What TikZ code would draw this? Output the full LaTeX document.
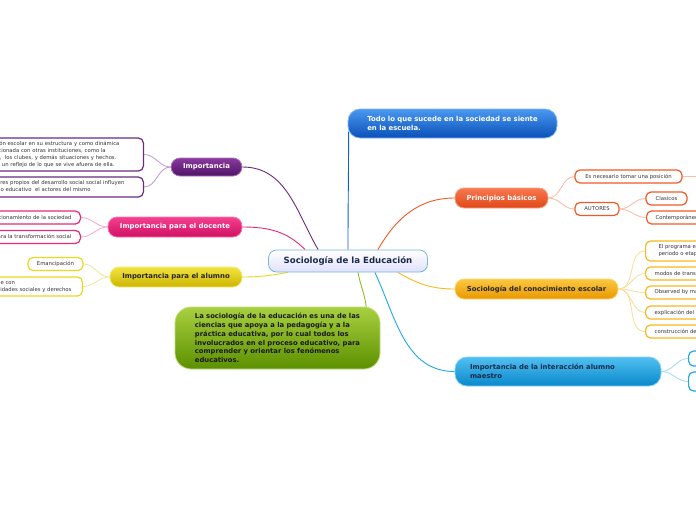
\documentclass[tikz,border=0pt]{standalone}
\usepackage{fontspec}
\setmainfont{DejaVu Sans}
\usetikzlibrary{calc}
\pgfdeclarelayer{back}
\pgfdeclarelayer{bg}
\pgfsetlayers{back,bg,main}
\definecolor{cpur}{HTML}{6B2A80}\definecolor{cpurT}{HTML}{8A3A9E}\definecolor{cpurB}{HTML}{4E1466}\definecolor{cpurL}{HTML}{C8A0D0}
\definecolor{cpin}{HTML}{E8287A}\definecolor{cpinT}{HTML}{F5408F}\definecolor{cpinB}{HTML}{D01063}\definecolor{cpinL}{HTML}{F8B0D0}
\definecolor{cyel}{HTML}{E8D820}\definecolor{cyelT}{HTML}{F2E540}\definecolor{cyelB}{HTML}{CDB400}\definecolor{cyelL}{HTML}{F0E8A0}
\definecolor{cora}{HTML}{F05A28}\definecolor{coraT}{HTML}{F87850}\definecolor{coraB}{HTML}{E04818}\definecolor{coraL}{HTML}{F8C0A8}
\definecolor{cgol}{HTML}{F8B820}\definecolor{cgolT}{HTML}{FCC840}\definecolor{cgolB}{HTML}{E89800}\definecolor{cgolL}{HTML}{F8E0A0}
\definecolor{clbl}{HTML}{20A8E8}\definecolor{clblT}{HTML}{50C0F0}\definecolor{clblB}{HTML}{0A88CC}\definecolor{clblL}{HTML}{A8DCF4}
\definecolor{cblu}{HTML}{1060D0}\definecolor{cbluT}{HTML}{4A98F0}\definecolor{cbluB}{HTML}{0A50B8}
\definecolor{cgre}{HTML}{88C020}\definecolor{cgreT}{HTML}{A8D040}\definecolor{cgreB}{HTML}{5C9000}
\definecolor{ctxt}{HTML}{1A2A4A}
\tikzset{
  mainbox/.style={rounded corners=9pt, inner sep=0pt, font=\bfseries\fontsize{6.9}{9}\selectfont, line width=0.8pt},
  childbox/.style={draw, line width=1.2pt, fill=white, rounded corners=5pt, inner ysep=0pt, inner xsep=9pt,
     font=\fontsize{5.3}{7}\selectfont, text=black!80},
  mconn/.style={line width=0.9pt},
  cconn/.style={line width=0.9pt},
}
\begin{document}
\begin{tikzpicture}[x=1pt,y=-1pt]
\useasboundingbox (0,0) rectangle (696,520);
\begin{pgfonlayer}{back}
\fill[white] (0,0) rectangle (696,520);
\end{pgfonlayer}
\clip (0,0) rectangle (696,520);

% central
\node[mainbox, rounded corners=8pt, draw=clbl!80!black!60, top color=white, bottom color=black!8!blue!12!white, minimum width=159pt, minimum height=22pt, text=ctxt, font=\bfseries\fontsize{8.6}{10}\selectfont] (c) at (348,261) {Sociología de la Educación};

% top blue
\node[mainbox, draw=cbluT!70!white, top color=cbluT, bottom color=cbluB, minimum width=209pt, minimum height=29pt, text=white, align=left, rounded corners=12pt] (todo) at (452.5,123.5) {Todo lo que sucede en la sociedad se siente\\en la escuela.};

% left branches
\node[mainbox, draw=cpurT!70!white, top color=cpurT, bottom color=cpurB, minimum width=71pt, minimum height=18pt, text=white] (imp) at (206.5,167) {Importancia};
\node[mainbox, draw=cpinT!70!white, top color=cpinT, bottom color=cpinB, minimum width=134pt, minimum height=20pt, text=white] (doc) at (175,227) {Importancia para el docente};
\node[mainbox, draw=cyelT!70!white, top color=cyelT, bottom color=cyelB, minimum width=132pt, minimum height=20pt, text=black!85] (alu) at (176,277) {Importancia para el alumno};

% right branches
\node[mainbox, draw=coraT!70!white, top color=coraT, bottom color=coraB, minimum width=93pt, minimum height=20pt, text=white] (prin) at (501.5,198) {Principios básicos};
\node[mainbox, draw=cgolT!70!white, top color=cgolT, bottom color=cgolB, minimum width=163pt, minimum height=20pt, text=black!85] (soc) at (536.5,289) {Sociología del conocimiento escolar};
\node[mainbox, draw=clblT!70!white, top color=clblT, bottom color=clblB, minimum width=206pt, minimum height=29pt, text=ctxt, align=left, text width=176pt, inner xsep=15pt, rounded corners=12pt] (inter) at (558,371.5) {Importancia de la interacción alumno\\maestro};

% green
\node[mainbox, draw=cgreT!70!white, top color=cgreT, bottom color=cgreB, minimum width=205pt, minimum height=62pt, text=black!90, align=left, rounded corners=16pt, font=\bfseries\fontsize{6.8}{8.7}\selectfont] (gre) at (277.5,338) {La sociología de la educación es una de las\\ciencias que apoya a la pedagogía y a la\\práctica educativa, por lo cual todos los\\involucrados en el proceso educativo, para\\comprender y orientar los fenómenos\\educativos.};

% children: Importancia
\node[childbox, draw=cpur, anchor=east, minimum height=33pt, text width=168pt, inner xsep=5pt, align=left] (imp1) at (144,154.5) {La institución escolar en su estructura y como dinámica\\y está relacionada con otras instituciones, como la\\y la familia,\ \ los clubes, y demás situaciones y hechos.\\Es también un reflejo de lo que se vive afuera de ella.};
\node[childbox, draw=cpur, anchor=east, minimum height=20pt, text width=162pt, inner xsep=5pt, align=left] (imp2) at (144,187) {Los factores propios del desarrollo social social influyen\\el proceso educativo\ \ el actores del mismo};

% children: docente
\node[childbox, draw=cpin, anchor=east, minimum height=13pt] (doc1) at (81,217.5) {el funcionamiento de la sociedad};
\node[childbox, draw=cpin, anchor=east, minimum height=13pt] (doc2) at (81,237) {Contribuir para la transformación social};

% children: alumno
\node[childbox, draw=cyel, minimum width=55pt, minimum height=13pt, inner xsep=4pt] (alu1) at (55.5,264) {Emancipación};
\node[childbox, draw=cyel, anchor=east, minimum height=19pt, align=left, inner xsep=11pt] (alu2) at (83,286.5) {Ser partícipe con\\responsabilidades sociales y derechos};

% children: principios
\node[childbox, draw=cora, minimum width=107pt, minimum height=13pt, inner xsep=3pt] (pos) at (628.5,176.5) {Es necesario tomar una posición};
\coordinate (posend) at (720,176.5);
\node[childbox, draw=cora, minimum width=44pt, minimum height=13pt, inner xsep=3pt] (aut) at (597,209) {AUTORES};
\node[childbox, draw=cora, minimum width=41pt, minimum height=13pt, inner xsep=3pt] (clas) at (666.5,198.5) {Clasicos};
\node[childbox, draw=cora, anchor=west, minimum height=13pt] (cont) at (646,217.5) {Contemporáneos};

% children: sociologia del conocimiento
\node[childbox, draw=cgol, anchor=west, minimum height=20pt, align=left, inner xsep=13pt] (s1) at (645,251) {El programa escolar de un\\periodo o etapa histórica};
\node[childbox, draw=cgol, anchor=west, minimum height=13pt] (s2) at (645,273.5) {modos de transmisión del conocimiento};
\node[childbox, draw=cgol, anchor=west, minimum height=13pt] (s3) at (645,292.5) {Observed by many};
\node[childbox, draw=cgol, anchor=west, minimum height=13pt] (s4) at (645,312.5) {explicación del currículo};
\node[childbox, draw=cgol, anchor=west, minimum height=13pt] (s5) at (645,331.5) {construcción del conocimiento};

% children: interaccion
\node[childbox, draw=clbl, anchor=west, minimum width=60pt, minimum height=15pt] (i1) at (688,358.5) {};
\node[childbox, draw=clbl, anchor=west, minimum width=60pt, minimum height=19pt] (i2) at (688,381.5) {};

\begin{pgfonlayer}{bg}
\clip (0,0) rectangle (696,520);
% main connectors
\draw[mconn, cblu] (c.north) to[out=90,in=-90] ([xshift=1pt,yshift=-8pt]todo.west);
\draw[mconn, cpur] ([xshift=50pt]c.north west) to[out=120,in=0] (imp.east);
\draw[mconn, cpin] ([xshift=37pt]c.north west) to[out=135,in=0] (doc.east);
\draw[mconn, cyel] ([xshift=20pt]c.south west) to[out=190,in=0] (alu.east);
\draw[mconn, cora] ([xshift=-50pt]c.north east) to[out=60,in=180] (prin.west);
\draw[mconn, cgol] ([xshift=-30pt]c.south east) to[out=-30,in=180] (soc.west);
\draw[mconn, clbl] ([xshift=-53pt]c.south east) to[out=-65,in=180] (inter.west);
\draw[mconn, cgre] ([xshift=10pt]c.south) to[out=-80,in=95] ([xshift=-14pt,yshift=-2pt]gre.north east);
% child connectors
\foreach \t in {imp1,imp2} \draw[cconn, cpurL] (imp.west) to[out=180,in=0] (\t.east);
\foreach \t in {doc1,doc2} \draw[cconn, cpinL] (doc.west) to[out=180,in=0] (\t.east);
\foreach \t in {alu1,alu2} \draw[cconn, cyelL] (alu.west) to[out=180,in=0] (\t.east);
\foreach \t in {pos,aut} \draw[cconn, coraL] (prin.east) to[out=0,in=180] (\t.west);
\draw[cconn, coraL] (pos.east) -- (posend);
\foreach \t in {clas,cont} \draw[cconn, coraL] (aut.east) to[out=0,in=180] (\t.west);
\foreach \t in {s1,s2,s3,s4,s5} \draw[cconn, cgolL] (soc.east) to[out=0,in=180] (\t.west);
\foreach \t in {i1,i2} \draw[cconn, clblL] (inter.east) to[out=0,in=180] (\t.west);
\end{pgfonlayer}
\end{tikzpicture}
\end{document}
